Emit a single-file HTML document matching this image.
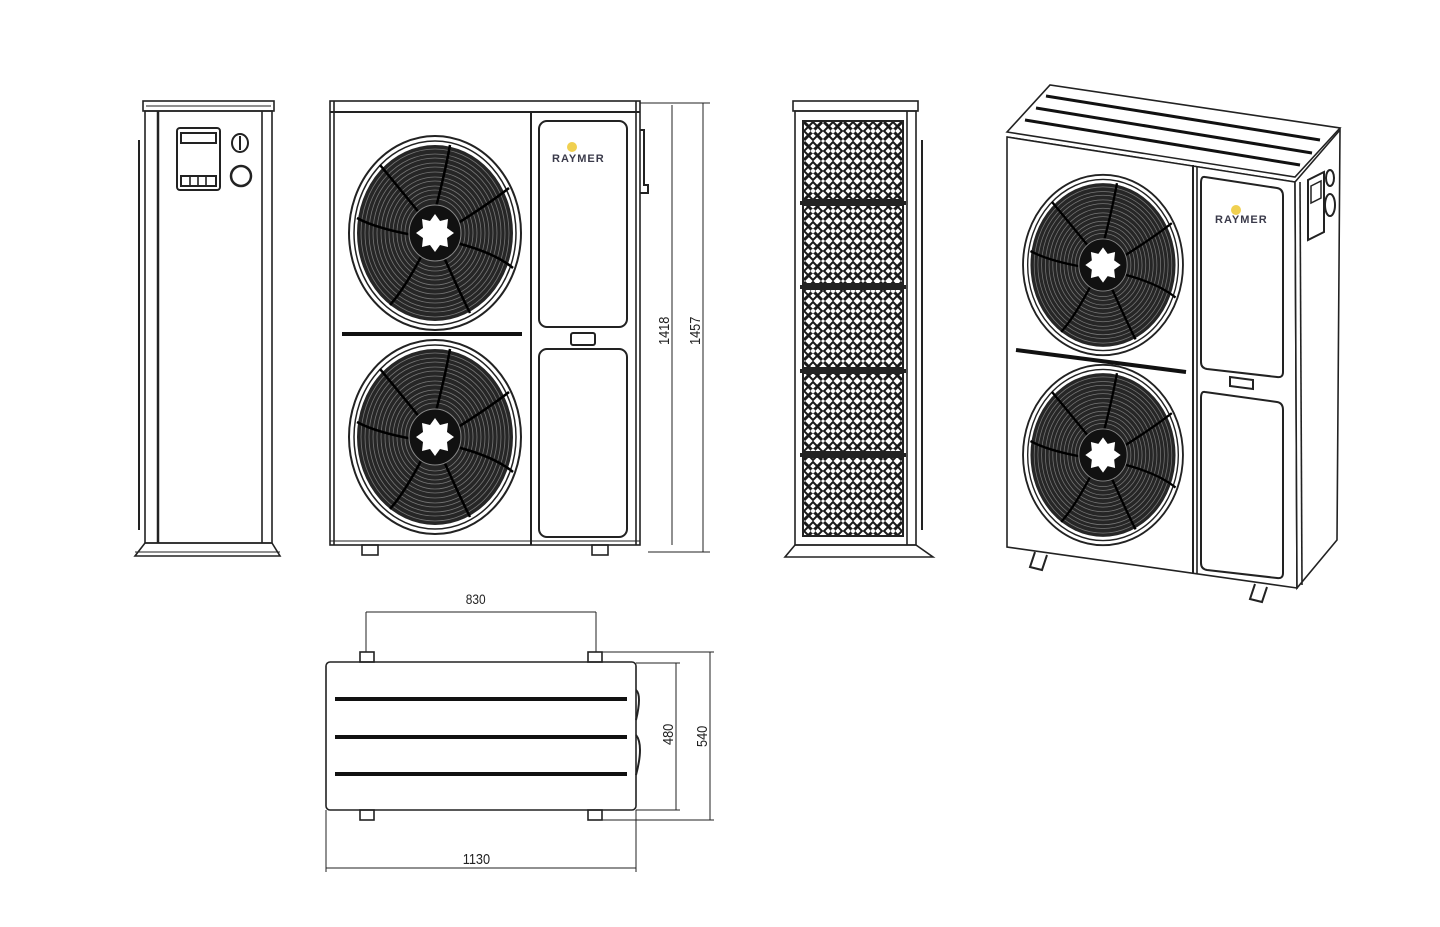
<!DOCTYPE html>
<html><head><meta charset="utf-8"><style>
html,body{margin:0;padding:0;background:#fff;}
svg{display:block;}
text{font-family:"Liberation Sans",sans-serif;}
</style></head><body>
<svg width="1440" height="927" viewBox="0 0 1440 927" xmlns="http://www.w3.org/2000/svg">
<defs>
<pattern id="lat" x="803" y="121" width="20" height="20" patternUnits="userSpaceOnUse">
<rect width="20" height="20" fill="#fff"/>
<path d="M1 1L19 19M19 1L1 19" stroke="#1a1a1a" stroke-width="3"/>
<path d="M10 1L19 10L10 19L1 10Z" fill="none" stroke="#1a1a1a" stroke-width="2"/>
<circle cx="10" cy="10" r="2" fill="#fff"/>
</pattern>
<g id="fan">
<ellipse cx="0" cy="0" rx="86" ry="97" fill="#fff" stroke="#222" stroke-width="2"/>
<ellipse cx="0" cy="0" rx="81" ry="92" fill="none" stroke="#222" stroke-width="1.5"/>
<ellipse cx="0" cy="0" rx="78" ry="88" fill="#262626"/>
<g fill="none" stroke="#777" stroke-width="0.8">
<ellipse rx="70" ry="79"/><ellipse rx="62" ry="70"/><ellipse rx="54" ry="61"/><ellipse rx="46" ry="52"/><ellipse rx="38" ry="43"/><ellipse rx="30" ry="34"/>
<ellipse rx="74" ry="84"/><ellipse rx="66" ry="75"/><ellipse rx="58" ry="66"/><ellipse rx="50" ry="56"/><ellipse rx="42" ry="47"/><ellipse rx="34" ry="38"/>
</g>
<g stroke="#000" stroke-width="2.5" fill="none">
<path d="M0 -22 Q10 -60 15 -88"/><path d="M20 -8 Q55 -30 74 -45"/><path d="M22 10 Q60 20 78 35"/><path d="M8 22 Q25 60 35 80"/><path d="M-12 20 Q-30 55 -45 72"/><path d="M-22 2 Q-60 -5 -78 -15"/><path d="M-14 -18 Q-40 -50 -55 -68"/>
</g>
<ellipse rx="26" ry="28" fill="#111" stroke="#888" stroke-width="1"/>
<polygon fill="#fff" points="0,-19 5,-12 13,-14 12,-5 19,0 12,5 13,14 5,12 0,19 -5,12 -13,14 -12,5 -19,0 -12,-5 -13,-14 -5,-12"/>
</g>
</defs>

<g fill="none" stroke="#222" stroke-width="1.6">
<!-- LEFT SIDE VIEW -->
<rect x="143" y="101" width="131" height="10"/>
<line x1="146" y1="106" x2="271" y2="106" stroke-width="1"/>
<rect x="145" y="111" width="127" height="432"/>
<line x1="158" y1="111" x2="158" y2="543" stroke-width="2.5"/>
<line x1="262" y1="111" x2="262" y2="543"/>
<line x1="139" y1="140" x2="139" y2="530" stroke-width="2"/>
<polygon points="145,543 272,543 280,556 135,556" />
<line x1="135" y1="552" x2="280" y2="552" stroke-width="1"/>
<rect x="177" y="128" width="43" height="62" rx="3" stroke-width="2"/>
<rect x="181" y="133" width="35" height="10" stroke-width="2"/>
<path d="M181 176 h35 v10 h-35z" stroke-width="2"/>
<line x1="190" y1="176" x2="190" y2="186"/><line x1="198" y1="176" x2="198" y2="186"/><line x1="206" y1="176" x2="206" y2="186"/>
<ellipse cx="240" cy="143" rx="8" ry="9" stroke-width="2"/>
<line x1="240" y1="136" x2="240" y2="150" stroke-width="2"/>
<ellipse cx="241" cy="176" rx="10" ry="10" stroke-width="2.5"/>

<!-- FRONT VIEW -->
<rect x="330" y="101" width="310" height="444"/>
<line x1="330" y1="112" x2="640" y2="112" stroke-width="2"/>
<line x1="334" y1="101" x2="334" y2="545"/>
<line x1="636" y1="101" x2="636" y2="545"/>
<line x1="531" y1="112" x2="531" y2="545" stroke-width="2"/>
<line x1="330" y1="541" x2="640" y2="541" stroke-width="1"/>
<rect x="539" y="121" width="88" height="206" rx="8" stroke-width="2"/>
<rect x="539" y="349" width="88" height="188" rx="8" stroke-width="2"/>
<rect x="571" y="333" width="24" height="12" rx="2" stroke-width="2"/>
<line x1="342" y1="334" x2="522" y2="334" stroke-width="4" stroke="#111"/>
<rect x="362" y="545" width="16" height="10"/>
<rect x="592" y="545" width="16" height="10"/>
<path d="M640 130 h4 v55 h4 v8 h-8" stroke-width="2"/>
<!-- dims -->
<line x1="640" y1="103" x2="710" y2="103" stroke-width="1"/>
<line x1="648" y1="552" x2="710" y2="552" stroke-width="1"/>
<line x1="672" y1="105" x2="672" y2="545" stroke-width="1"/>
<line x1="703" y1="103" x2="703" y2="552" stroke-width="1"/>

<!-- SIDE GRILLE VIEW -->
<rect x="793" y="101" width="125" height="10"/>
<rect x="795" y="111" width="121" height="434"/>
<line x1="907" y1="111" x2="907" y2="545"/>
<line x1="922" y1="140" x2="922" y2="530" stroke-width="2"/>
<polygon points="795,545 916,545 933,557 785,557"/>
</g>

<g stroke="#222">
<rect x="803" y="121" width="100" height="79" fill="url(#lat)" stroke-width="2"/>
<rect x="803" y="205" width="100" height="79" fill="url(#lat)" stroke-width="2"/>
<rect x="803" y="289" width="100" height="79" fill="url(#lat)" stroke-width="2"/>
<rect x="803" y="373" width="100" height="79" fill="url(#lat)" stroke-width="2"/>
<rect x="803" y="457" width="100" height="79" fill="url(#lat)" stroke-width="2"/>
<g stroke-width="4"><line x1="800" y1="203" x2="906" y2="203"/><line x1="800" y1="287" x2="906" y2="287"/><line x1="800" y1="371" x2="906" y2="371"/><line x1="800" y1="455" x2="906" y2="455"/></g>
</g>

<use href="#fan" x="435" y="233"/>
<use href="#fan" x="435" y="437"/>

<text x="552" y="162" font-size="11" font-weight="bold" fill="#3a3a4a" letter-spacing="1">RAYMER</text>
<circle cx="572" cy="147" r="5" fill="#f0d050"/>

<!-- ISOMETRIC -->
<g fill="none" stroke="#222" stroke-width="1.6">
<polygon points="1007,132 1050,85 1340,128 1295,177" fill="#fff"/>
<line x1="1007" y1="137" x2="1295" y2="182"/>
<g stroke-width="3" stroke="#111">
<line x1="1046" y1="96" x2="1320" y2="140"/><line x1="1036" y1="108" x2="1312" y2="153"/><line x1="1025" y1="120" x2="1300" y2="165"/>
</g>
<polygon points="1007,137 1295,182 1297,588 1007,547" fill="#fff"/>
<polygon points="1295,182 1340,130 1337,540 1297,588" fill="#fff"/>
<line x1="1300" y1="182" x2="1302" y2="585"/>
<line x1="1193" y1="165" x2="1193" y2="574" stroke-width="2"/>
<line x1="1197" y1="166" x2="1197" y2="574"/>
<path d="M1205 177 L1277 188 Q1283 189 1283 196 L1283 372 Q1283 378 1277 377 L1207 369 Q1201 368 1201 362 L1201 183 Q1201 176 1205 177Z" stroke-width="2"/>
<path d="M1205 392 L1277 402 Q1283 403 1283 410 L1283 573 Q1283 579 1277 578 L1207 570 Q1201 569 1201 563 L1201 398 Q1201 391 1205 392Z" stroke-width="2"/>
<polygon points="1230,377 1253,380 1253,389 1230,386" stroke-width="2"/>
<line x1="1016" y1="350" x2="1186" y2="372" stroke-width="4" stroke="#111"/>
<polygon points="1308,180 1324,172 1324,232 1308,240" stroke-width="2"/>
<polygon points="1311,186 1321,181 1321,198 1311,203" stroke-width="1.5"/>
<ellipse cx="1330" cy="178" rx="4" ry="8" stroke-width="2"/>
<ellipse cx="1330" cy="205" rx="5" ry="11" stroke-width="2"/>
<path d="M1035 552 l-5 15 l12 3 l5 -15" stroke-width="2"/>
<path d="M1255 584 l-5 15 l12 3 l5 -15" stroke-width="2"/>
</g>
<g transform="translate(1103,265) scale(0.93,0.93)"><use href="#fan"/></g>
<g transform="translate(1103,455) scale(0.93,0.93)"><use href="#fan"/></g>
<text x="1215" y="223" font-size="11" font-weight="bold" fill="#3a3a4a" letter-spacing="1">RAYMER</text>
<circle cx="1236" cy="210" r="5" fill="#f0d050"/>

<!-- BOTTOM (TOP) VIEW -->
<g fill="none" stroke="#222" stroke-width="1.6">
<rect x="326" y="662" width="310" height="148" rx="4"/>
<g stroke-width="4" stroke="#111"><line x1="335" y1="699" x2="627" y2="699"/><line x1="335" y1="737" x2="627" y2="737"/><line x1="335" y1="774" x2="627" y2="774"/></g>
<rect x="360" y="652" width="14" height="10"/><rect x="588" y="652" width="14" height="10"/>
<rect x="360" y="810" width="14" height="10"/><rect x="588" y="810" width="14" height="10"/>
<path d="M636 690 q6 5 0 30 M636 735 q8 10 0 40" stroke-width="2"/>
<g stroke-width="1">
<line x1="366" y1="612" x2="596" y2="612"/><line x1="366" y1="612" x2="366" y2="652"/><line x1="596" y1="612" x2="596" y2="652"/>
<line x1="636" y1="663" x2="680" y2="663"/><line x1="636" y1="810" x2="680" y2="810"/><line x1="676" y1="663" x2="676" y2="810"/>
<line x1="602" y1="652" x2="714" y2="652"/><line x1="602" y1="820" x2="714" y2="820"/><line x1="710" y1="652" x2="710" y2="820"/>
<line x1="326" y1="810" x2="326" y2="872"/><line x1="636" y1="810" x2="636" y2="872"/><line x1="326" y1="868" x2="636" y2="868"/>
</g>
</g>
<text x="466" y="604" font-size="14" fill="#222" transform="scale(0.85,1) translate(82,0)">830</text>
<text x="462" y="864" font-size="15" fill="#222" transform="translate(70,0) scale(0.85,1)">1130</text>
<text font-size="15" fill="#222" transform="translate(673,745) rotate(-90) scale(0.85,1)">480</text>
<text font-size="15" fill="#222" transform="translate(707,747) rotate(-90) scale(0.85,1)">540</text>
<text font-size="15" fill="#222" transform="translate(669,345) rotate(-90) scale(0.85,1)">1418</text>
<text font-size="15" fill="#222" transform="translate(700,345) rotate(-90) scale(0.85,1)">1457</text>
</svg>
</body></html>
